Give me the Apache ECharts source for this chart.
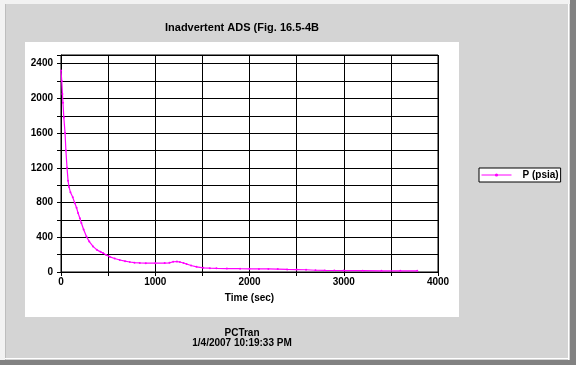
<!DOCTYPE html>
<html>
<head>
<meta charset="UTF-8">
<title>Inadvertent ADS</title>
<script src="https://cdn.jsdelivr.net/npm/echarts@6/dist/echarts.min.js"></script>
<style>
  html, body { margin: 0; padding: 0; background: #d4d4d4; }
  #main { width: 576px; height: 365px; }
</style>
</head>
<body>
<div id="main"></div>
<script type="text/javascript">
// time in sec, pressure in psia
var timeSec = [0, 8, 15, 21, 30, 43, 52, 64, 75, 85, 100, 125, 146, 165, 181, 200, 216, 240, 270, 300,
    340, 380, 420, 446, 480, 518, 570, 624, 680, 730, 780, 836, 900, 1000, 1100, 1150, 1190, 1230, 1261, 1300,
    1332, 1380, 1439, 1510, 1580, 1650, 1760, 1900, 2000, 2100, 2200, 2300, 2400, 2500, 2600, 2700, 2800, 2900, 3000, 3200,
    3400, 3600, 3780];
var pressure = [2320, 2200, 2050, 1950, 1780, 1600, 1400, 1200, 1050, 980, 920, 860, 795, 740, 680, 620, 564, 490, 410, 350,
    295, 255, 232, 219, 195, 175, 155, 138, 125, 115, 108, 104, 102, 102, 103, 106, 118, 120, 115, 104,
    92, 75, 60, 48, 44, 42, 40, 38, 37, 36, 35, 34, 30, 28, 26, 20, 18, 17, 16, 15,
    14, 13, 13];
var seriesName = 'P (psia)';
var chartTitle = 'Inadvertent ADS (Fig. 16.5-4B';
var footer = 'PCTran\n1/4/2007 10:19:33 PM';

var points = [];
for (var i = 0; i < timeSec.length; i++) {
    points.push([timeSec[i], pressure[i]]);
}

var myChart = echarts.init(document.getElementById('main'));
var font = 'Arial, "Liberation Sans", sans-serif';

var option = {
    backgroundColor: '#d4d4d4',
    animation: false,
    graphic: [
        // window bevel
        { type: 'rect', shape: { x: 0, y: 0, width: 576, height: 4 }, style: { fill: '#f2f2f2' }, silent: true },
        { type: 'rect', shape: { x: 0, y: 0, width: 5, height: 365 }, style: { fill: '#f2f2f2' }, silent: true },
        { type: 'rect', shape: { x: 5, y: 4, width: 1, height: 356 }, style: { fill: '#bdbdbd' }, silent: true },
        { type: 'rect', shape: { x: 568, y: 4, width: 1, height: 356 }, style: { fill: '#ffffff' }, silent: true },
        { type: 'rect', shape: { x: 5, y: 358, width: 564, height: 1 }, style: { fill: '#ffffff' }, silent: true },
        { type: 'rect', shape: { x: 570, y: 0, width: 6, height: 365 }, style: { fill: '#828282' }, silent: true },
        { type: 'rect', shape: { x: 0, y: 360, width: 576, height: 5 }, style: { fill: '#828282' }, silent: true },
        // white plot panel
        { type: 'rect', z: -1, shape: { x: 25, y: 42, width: 434, height: 275 }, style: { fill: '#ffffff' }, silent: true }
    ],
    title: [{
        text: chartTitle,
        left: 242,
        top: 22,
        padding: 0,
        textAlign: 'center',
        textStyle: { fontFamily: font, fontSize: 11, fontWeight: 'bold', color: '#000' }
    }, {
        text: footer,
        left: 242,
        top: 328,
        padding: 0,
        textAlign: 'center',
        textStyle: { fontFamily: font, fontSize: 10, fontWeight: 'bold', color: '#000', lineHeight: 10 }
    }],
    legend: {
        left: 479,
        top: 168,
        orient: 'vertical',
        padding: [2, 2, 2, 2],
        itemWidth: 30,
        itemHeight: 4,
        borderColor: '#000',
        borderWidth: 1,
        backgroundColor: '#fff',
        lineStyle: { width: 1 },
        textStyle: { fontFamily: font, fontSize: 10, fontWeight: 'bold', color: '#000', padding: [0, 0, 0, 6] },
        data: [seriesName]
    },
    grid: {
        left: 61,
        right: 138,
        top: 55,
        height: 217,
        show: true,
        borderColor: '#000',
        borderWidth: 1,
        backgroundColor: '#fff'
    },
    xAxis: {
        type: 'value',
        min: 0,
        max: 4000,
        interval: 500,
        name: 'Time (sec)',
        nameLocation: 'middle',
        nameGap: 21,
        nameTextStyle: { fontFamily: font, fontSize: 10, fontWeight: 'bold', color: '#000' },
        axisLine: { lineStyle: { color: '#000' } },
        axisTick: { show: true, length: 4, lineStyle: { color: '#000' } },
        axisLabel: {
            margin: 5,
            fontFamily: font, fontSize: 10, fontWeight: 'bold', color: '#000',
            formatter: function (v) { return v % 1000 === 0 ? String(v) : ''; }
        },
        splitLine: { show: true, lineStyle: { color: '#000', width: 1 } }
    },
    yAxis: {
        type: 'value',
        min: 0,
        max: 2500,
        interval: 200,
        axisLine: { show: true, lineStyle: { color: '#000' } },
        axisTick: { show: true, length: 4, lineStyle: { color: '#000' } },
        axisLabel: {
            margin: 8,
            fontFamily: font, fontSize: 10, fontWeight: 'bold', color: '#000',
            formatter: function (v) { return (v % 400 === 0 && v <= 2400) ? String(v) : ''; }
        },
        splitLine: { show: true, lineStyle: { color: '#000', width: 1 } }
    },
    series: [{
        name: seriesName,
        type: 'line',
        data: points,
        symbol: 'circle',
        symbolSize: 2,
        showSymbol: true,
        color: '#ff00ff',
        lineStyle: { color: '#ff00ff', width: 1.2 },
        itemStyle: { color: '#ff00ff' }
    }]
};

myChart.setOption(option);
</script>
</body>
</html>
